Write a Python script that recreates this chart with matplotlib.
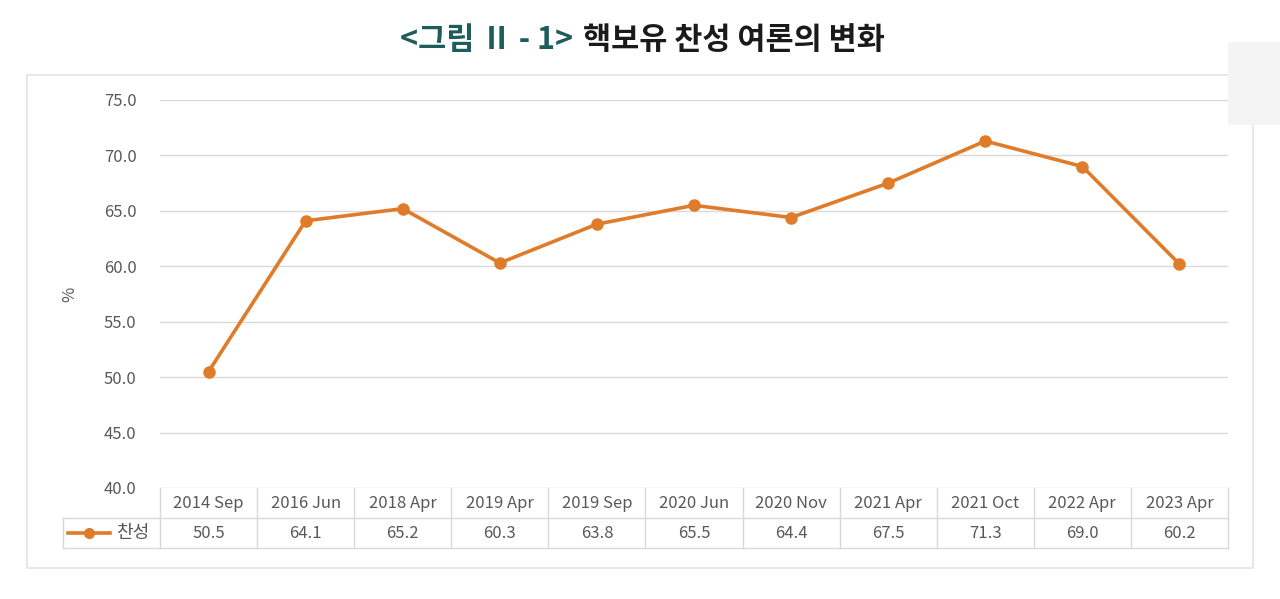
import matplotlib.pyplot as plt
from matplotlib.patches import Rectangle
from matplotlib.lines import Line2D
import matplotlib.transforms as mtransforms

plt.rcParams['font.family'] = ['Noto Sans CJK KR', 'DejaVu Sans']

periods = ['2014 Sep', '2016 Jun', '2018 Apr', '2019 Apr', '2019 Sep', '2020 Jun',
           '2020 Nov', '2021 Apr', '2021 Oct', '2022 Apr', '2023 Apr']
support = [50.5, 64.1, 65.2, 60.3, 63.8, 65.5, 64.4, 67.5, 71.3, 69.0, 60.2]
series_name = '찬성'
yticks = [40, 45, 50, 55, 60, 65, 70, 75]

W, H = 1280, 599
orange = '#E07B2A'
grid_c = '#d9d9d9'
text_c = '#595959'

fig = plt.figure(figsize=(W / 100, H / 100), dpi=100)

# outer frame
fig.patches.append(Rectangle((27 / W, 1 - 568 / H), (1253 - 27) / W, (568 - 75) / H,
                             transform=fig.transFigure, fill=False, ec='#e3e3e3', lw=1.2))
fig.patches.append(Rectangle((1228 / W, 1 - 125 / H), 52 / W, 83 / H,
                             transform=fig.transFigure, fc='#f4f4f4', ec='none'))

ax = fig.add_axes([160 / W, 1 - 488 / H, (1228 - 160) / W, (488 - 100) / H])
n = len(periods)
x = list(range(n))
ax.plot(x, support, color=orange, lw=2.6, marker='o', ms=8, mfc=orange, mec=orange, zorder=3)
ax.set_xlim(-0.5, n - 0.5)
ax.set_ylim(40, 75)
ax.set_yticks(yticks)
ax.set_yticklabels([f'{v:.1f}' for v in yticks], color=text_c, fontsize=12)
ax.tick_params(axis='y', length=0, pad=17)
ax.set_xticks([])
for s in ax.spines.values():
    s.set_visible(False)
ax.grid(axis='y', color=grid_c, lw=1)
ax.set_axisbelow(True)
ax.set_ylabel('%', color=text_c, fontsize=12)
ax.yaxis.set_label_coords((78 - 160) / (1228 - 160), 0.5)

# data table under the axes
tr = mtransforms.blended_transform_factory(ax.transData, ax.transAxes)
row_h = 30 / (488 - 100)
y0, y1, y2 = 0, -row_h, -2 * row_h
line_kw = dict(color=grid_c, lw=1, transform=tr, clip_on=False)
ax.add_line(Line2D([-1.5, n - 0.5], [y1, y1], **line_kw))
ax.add_line(Line2D([-1.5, n - 0.5], [y2, y2], **line_kw))
for i in range(n + 1):
    ax.add_line(Line2D([i - 0.5, i - 0.5], [y0, y2], **line_kw))
ax.add_line(Line2D([-1.5, -1.5], [y1, y2], **line_kw))
for i, (p, v) in enumerate(zip(periods, support)):
    ax.text(i, (y0 + y1) / 2, p, transform=tr, ha='center', va='center',
            fontsize=12, color=text_c)
    ax.text(i, (y1 + y2) / 2, f'{v:.1f}', transform=tr, ha='center', va='center',
            fontsize=12, color=text_c)
ym = (y1 + y2) / 2
ax.add_line(Line2D([-1.45, -1.235, -1.02], [ym, ym, ym], color=orange, lw=2.6,
                   transform=tr, clip_on=False, marker='o', markevery=[1], ms=7))
ax.text(-0.95, ym, series_name, transform=tr, ha='left', va='center',
        fontsize=13, color=text_c)

# title in two colours
fig.text(573 / W, 1 - 40 / H, '<그림 Ⅱ - 1>', ha='right', va='center',
         fontsize=22, fontweight='bold', color='#1f5c5c')
fig.text(583 / W, 1 - 40 / H, '핵보유 찬성 여론의 변화', ha='left', va='center',
         fontsize=22, fontweight='bold', color='#1a1a1a')

fig.savefig('out.png', dpi=100)
